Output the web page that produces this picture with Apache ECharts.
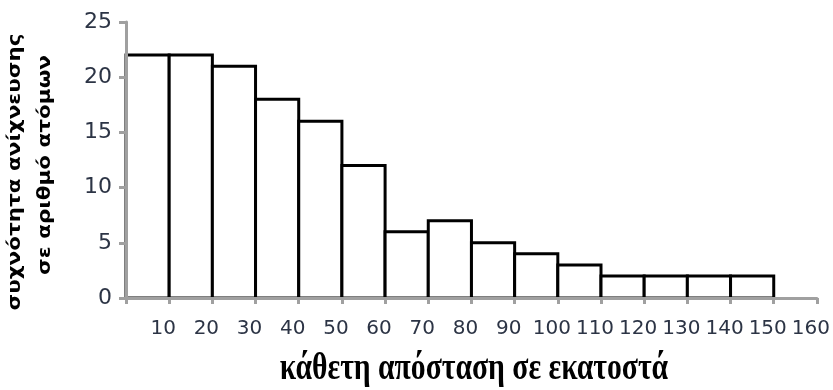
<!DOCTYPE html>
<html>
<head>
<meta charset="utf-8">
<script src="https://cdn.jsdelivr.net/npm/echarts@6/dist/echarts.min.js"></script>
<style>
html,body{margin:0;padding:0;background:#fff;}
#chart{width:833px;height:390px;}
</style>
</head>
<body>
<div id="chart"></div>
<script>
// Bin edges (cm) and frequencies
const binStarts = [0, 10, 20, 30, 40, 50, 60, 70, 80, 90, 100, 110, 120, 130, 140];
const binEnds   = [10, 20, 30, 40, 50, 60, 70, 80, 90, 100, 110, 120, 130, 140, 150];
const frequencies = [22, 22, 21, 18, 16, 12, 6, 7, 5, 4, 3, 2, 2, 2, 2];
const xTickLabels = ['10','20','30','40','50','60','70','80','90','100','110','120','130','140','150','160'];
const yTickLabels = ['0','5','10','15','20','25'];
const xTitle = 'κάθετη απόσταση σε εκατοστά';
const yTitleLine1 = 'συχνότητα ανίχνευσης';
const yTitleLine2 = 'σε αριθμό ατόμων';

const data = binStarts.map((s, i) => [s, binEnds[i], frequencies[i]]);

const chart = echarts.init(document.getElementById('chart'));
const labelColor = '#2c3445';
chart.setOption({
  animation: false,
  backgroundColor: '#fff',
  grid: { left: 126, right: 15, top: 22, bottom: 92 },
  xAxis: {
    type: 'value', min: 0, max: 160, interval: 10, z: 5,
    splitLine: { show: false },
    axisLine: { show: true, lineStyle: { color: '#a0a0a0', width: 3 } },
    axisTick: { show: true, length: 6, lineStyle: { color: '#a0a0a0', width: 3 } },
    axisLabel: {
      margin: 21, fontFamily: 'DejaVu Sans', fontSize: 20, color: labelColor,
      padding: [0, 12, 0, 0],
      formatter: v => { const i = Math.round(v / 10) - 1; return i >= 0 ? xTickLabels[i] : ''; }
    }
  },
  yAxis: {
    type: 'value', min: 0, max: 25, interval: 5, z: 5,
    splitLine: { show: false },
    axisLine: { show: true, lineStyle: { color: '#a0a0a0', width: 3 } },
    axisTick: { show: true, length: 7, lineStyle: { color: '#a0a0a0', width: 3 } },
    axisLabel: {
      margin: 14, fontFamily: 'DejaVu Sans', fontSize: 22, color: labelColor,
      formatter: v => yTickLabels[Math.round(v / 5)]
    }
  },
  series: [{
    type: 'custom',
    data: data,
    encode: { x: [0, 1], y: 2 },
    renderItem: (params, api) => {
      const p0 = api.coord([api.value(0), api.value(2)]);
      const p1 = api.coord([api.value(1), 0]);
      return {
        type: 'rect',
        shape: { x: p0[0], y: p0[1], width: p1[0] - p0[0], height: p1[1] - p0[1] },
        style: { fill: '#fff', stroke: '#000', lineWidth: 3 }
      };
    }
  }],
  graphic: [
    {
      type: 'text', x: 474, y: 369, scaleX: 0.78,
      style: { text: xTitle, font: 'bold 38px "Liberation Serif"', fill: '#000', align: 'center', verticalAlign: 'middle' }
    },
    {
      type: 'text', x: 15, y: 172, rotation: Math.PI / 2, scaleY: 0.82,
      style: { text: yTitleLine1, font: 'bold 21.5px "DejaVu Sans"', fill: '#000', align: 'center', verticalAlign: 'middle' }
    },
    {
      type: 'text', x: 45, y: 165, rotation: Math.PI / 2, scaleY: 0.82,
      style: { text: yTitleLine2, font: 'bold 21.5px "DejaVu Sans"', fill: '#000', align: 'center', verticalAlign: 'middle' }
    }
  ]
});
</script>
</body>
</html>
